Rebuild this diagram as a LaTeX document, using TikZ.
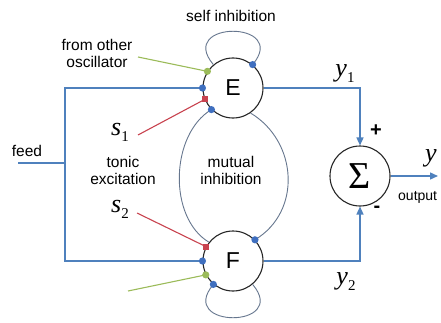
\documentclass[tikz,border=0pt]{standalone}
\usepackage{fontspec}
\setmainfont{Liberation Sans}
\newfontfamily\tnr{Liberation Serif}
\usetikzlibrary{arrows.meta,positioning}
\definecolor{linkblue}{HTML}{4F81BD}
\definecolor{dotblue}{HTML}{3F6FBF}
\definecolor{oscgreen}{HTML}{9BBB59}
\definecolor{tonicred}{HTML}{C8434F}
\definecolor{arcgray}{HTML}{66768E}
\newcommand{\varsub}[2]{{\tnr\fontsize{26}{26}\selectfont\itshape #1}\raisebox{-6.5pt}{\tnr\fontsize{15}{15}\selectfont #2}}
\tikzset{
  unit/.style={circle,draw=black!85,line width=1.1pt,minimum size=60pt,inner sep=0pt,font=\fontsize{23}{23}\selectfont},
  summer/.style={circle,draw=black!85,line width=1.1pt,minimum size=60pt,inner sep=0pt,font=\tnr\fontsize{38}{38}\selectfont},
  lbl/.style={align=center,inner sep=0pt,font=\fontsize{15.5}{17}\selectfont},
  sign/.style={inner sep=0pt,font=\bfseries\fontsize{20}{20}\selectfont},
  feedline/.style={linkblue,line width=1.4pt},
  outflow/.style={-{Triangle[length=8pt,width=7pt]},linkblue,line width=1.4pt},
  greenline/.style={oscgreen,line width=1.1pt},
  redline/.style={tonicred,line width=1.1pt},
  inhib/.style={arcgray,line width=0.9pt},
  bdot/.style={fill=dotblue},
  gdot/.style={fill=oscgreen},
  rdot/.style={fill=tonicred},
}

\begin{document}
\begin{tikzpicture}[x=1pt,y=1pt]
  \useasboundingbox (0,0) rectangle (441,322);
  % oscillator cells and the summing point
  \node[unit] (E) at (233,234) {E};
  \node[unit] (F) at (233,61) {F};
  \node[summer] (sum) at (360,146) {Σ};
  % texts
  \node[lbl] (selfinh) at (231,306) {self inhibition};
  \node[lbl] (fromosc) at (97,269) {from other\\oscillator};
  \node[lbl] (tonic) at (123,152) {tonic\\excitation};
  \node[lbl] (mutual) at (231,152) {mutual\\inhibition};
  \node[lbl] (feed) at (27,171) {feed};
  \node[anchor=base,inner sep=0pt] (s1) at (120,187) {\varsub{s}{1}};
  \node[anchor=base,inner sep=0pt] (s2) at (120,110) {\varsub{s}{2}};
  \node[anchor=base,inner sep=0pt] (y1) at (345,246) {\varsub{y}{1}};
  \node[anchor=base,inner sep=0pt] (y2) at (346,38) {\varsub{y}{2}};
  \node[anchor=base,inner sep=0pt] (yout) at (431,161) {{\tnr\fontsize{26}{26}\selectfont\itshape y}};
  \node[sign] (plus) at (376,191) {+};
  \node[sign] (minus) at (377,113) {-};
  \node[lbl,anchor=base west,font=\fontsize{14}{14}\selectfont] (outlbl) at (398,122) {output};
  % free ends
  \coordinate (feedin) at (18,159);
  \coordinate (split) at (65,159);
  \coordinate (oscE) at (138,265);
  \coordinate (oscF) at (128,31);
  \coordinate (s1tail) at (138,187);
  \coordinate (s2tail) at (137,109);
  \coordinate (outend) at (438,146);
  % self inhibition
  \draw[inhib] (E.130) .. controls +(130:58) and +(50:58) .. (E.50);
  \draw[inhib] (F.230) .. controls +(230:58) and +(310:58) .. (F.310);
  % mutual inhibition
  \draw[inhib] (F.142) .. controls +(149:48) and +(211:48) .. (E.225);
  \draw[inhib] (E.305) .. controls +(-31:55) and +(31:55) .. (F.44);
  % feed
  \draw[feedline] (feedin) -- (split);
  \draw[feedline] (E.180) -| (split) |- (F.180);
  % inputs
  \draw[greenline] (oscE) -- (E.147);
  \draw[greenline] (oscF) -- (F.207);
  \draw[redline] (s1tail) -- (E.202);
  \draw[redline] (s2tail) -- (F.152);
  % outputs
  \draw[outflow] (E) -| (sum);
  \draw[outflow] (F) -| (sum);
  \draw[outflow] (sum) -- (outend);
  % synapses
  \fill[gdot] (E.147) circle (3.6);
  \fill[bdot] (E.180) circle (3.6);
  \fill[rdot] ([shift={(-3,-3)}]E.202) rectangle +(6,6);
  \fill[bdot] (E.225) circle (3.6);
  \fill[bdot] (E.50) circle (3.6);
  \fill[rdot] ([shift={(-3,-3)}]F.152) rectangle +(6,6);
  \fill[bdot] (F.180) circle (3.6);
  \fill[gdot] (F.207) circle (3.6);
  \fill[bdot] (F.230) circle (3.6);
  \fill[bdot] (F.44) circle (3.6);
\end{tikzpicture}
\end{document}
